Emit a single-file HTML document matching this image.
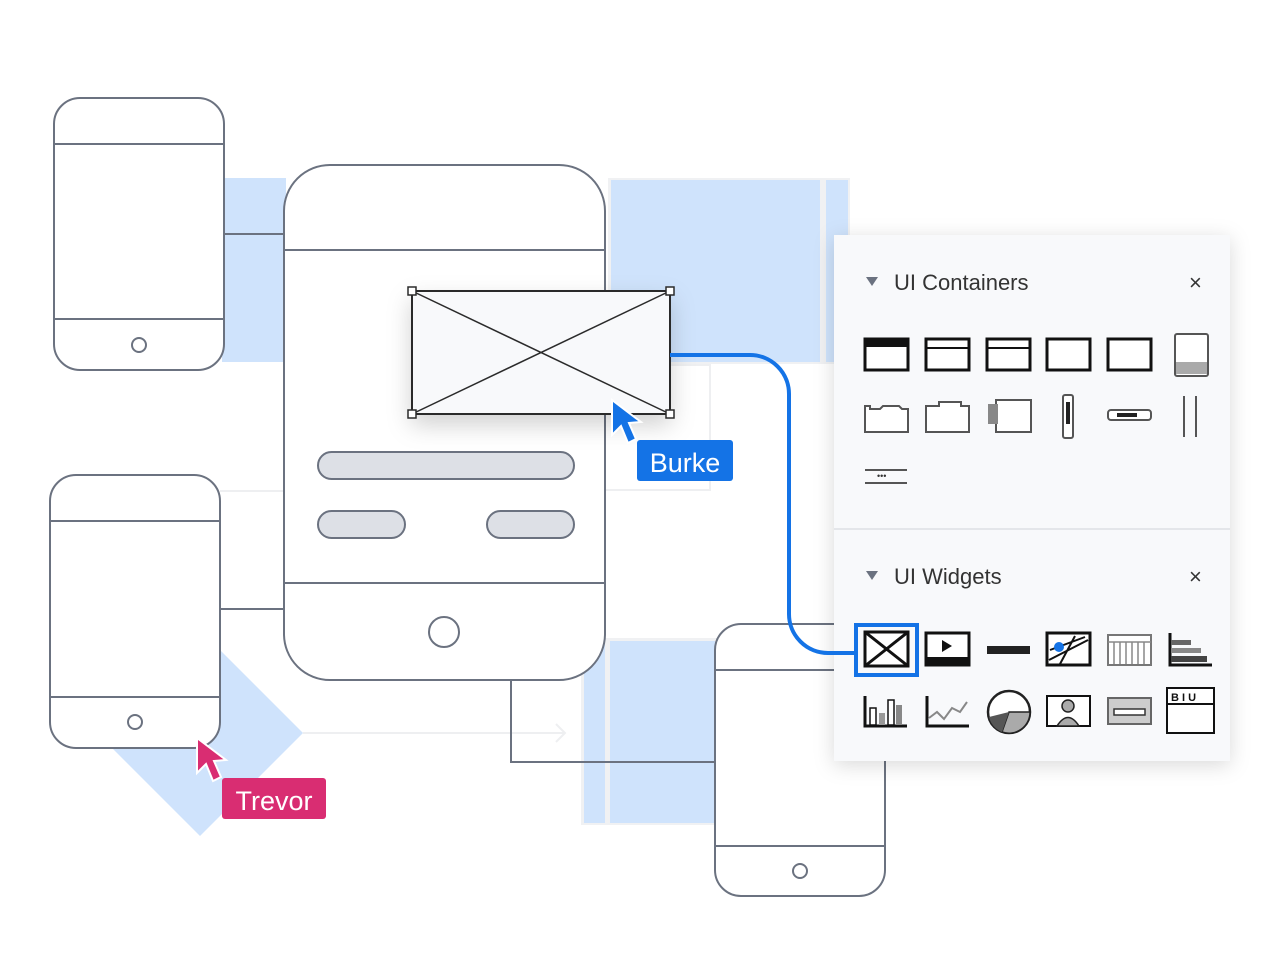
<!DOCTYPE html>
<html><head><meta charset="utf-8"><style>
html,body{margin:0;padding:0;background:#fff;}
svg{display:block;}
text{font-family:"Liberation Sans","DejaVu Sans",sans-serif;}
</style></head><body>
<svg width="1280" height="960" viewBox="0 0 1280 960" xmlns="http://www.w3.org/2000/svg">
<defs>
<filter id="sh" x="-30%" y="-30%" width="160%" height="180%"><feDropShadow dx="0" dy="10" stdDeviation="12" flood-color="#000" flood-opacity="0.18"/></filter>
<filter id="sh2" x="-20%" y="-20%" width="140%" height="140%"><feDropShadow dx="0" dy="4" stdDeviation="10" flood-color="#000" flood-opacity="0.15"/></filter>
</defs>
<rect x="222" y="178" width="64" height="184" fill="#cfe3fc"/>
<rect x="608" y="178" width="242" height="186" fill="#f0f1f3"/>
<rect x="611" y="180" width="209" height="182" fill="#cfe3fc"/>
<rect x="826" y="180" width="22" height="182" fill="#cfe3fc"/>
<rect x="605" y="365" width="105" height="125" fill="none" stroke="#eeeff1" stroke-width="2"/>
<rect x="581" y="638" width="136" height="187" fill="#f0f1f3"/>
<rect x="584" y="641" width="21" height="182" fill="#cfe3fc"/>
<rect x="610" y="641" width="105" height="182" fill="#cfe3fc"/>
<polygon points="200,630 303,733 200,836 97,733" fill="#cfe3fc"/>
<line x1="220" y1="491" x2="290" y2="491" stroke="#eeeff1" stroke-width="2"/>
<line x1="303" y1="733" x2="565" y2="733" stroke="#eeeff1" stroke-width="2"/>
<polyline points="556,724 565,733 556,742" fill="none" stroke="#eeeff1" stroke-width="2"/>
<line x1="224" y1="234" x2="284" y2="234" stroke="#6b7280" stroke-width="2"/>
<line x1="220" y1="609" x2="284" y2="609" stroke="#6b7280" stroke-width="2"/>
<polyline points="511,680 511,762 715,762" fill="none" stroke="#6b7280" stroke-width="2"/>
<g fill="#fff" stroke="#6b7280" stroke-width="2">
<rect x="54" y="98" width="170" height="272" rx="26"/>
<line x1="54" y1="144" x2="224" y2="144"/><line x1="54" y1="319" x2="224" y2="319"/>
<circle cx="139" cy="345" r="7"/>
<rect x="50" y="475" width="170" height="273" rx="26"/>
<line x1="50" y1="521" x2="220" y2="521"/><line x1="50" y1="697" x2="220" y2="697"/>
<circle cx="135" cy="722" r="7"/>
<rect x="715" y="624" width="170" height="272" rx="26"/>
<line x1="715" y1="670" x2="885" y2="670"/><line x1="715" y1="846" x2="885" y2="846"/>
<circle cx="800" cy="871" r="7"/>
<rect x="284" y="165" width="321" height="515" rx="46"/>
<line x1="284" y1="250" x2="605" y2="250"/><line x1="284" y1="583" x2="605" y2="583"/>
<circle cx="444" cy="632" r="15"/>
</g>
<g fill="#dde0e6" stroke="#6b7280" stroke-width="2">
<rect x="318" y="452" width="256" height="27" rx="13.5"/>
<rect x="318" y="511" width="87" height="27" rx="13.5"/>
<rect x="487" y="511" width="87" height="27" rx="13.5"/>
</g>
<rect x="412" y="291" width="258" height="123" fill="#f8f9fb" stroke="#2b2b2b" stroke-width="2" filter="url(#sh)"/>
<line x1="412" y1="291" x2="670" y2="414" stroke="#2b2b2b" stroke-width="1.5"/>
<line x1="670" y1="291" x2="412" y2="414" stroke="#2b2b2b" stroke-width="1.5"/>
<g fill="#fff" stroke="#2b2b2b" stroke-width="1.5">
<rect x="408" y="287" width="8" height="8"/><rect x="666" y="287" width="8" height="8"/>
<rect x="408" y="410" width="8" height="8"/><rect x="666" y="410" width="8" height="8"/>
</g>
<rect x="834" y="235" width="396" height="526" fill="#f8f9fb" filter="url(#sh2)"/>
<line x1="834" y1="529" x2="1230" y2="529" stroke="#e4e6ea" stroke-width="2"/>
<polygon points="866,277 878,277 872,286" fill="#6b7280"/>
<text x="894" y="290" font-size="22" fill="#333">UI Containers</text>
<text x="1189" y="290" font-size="22" fill="#333">×</text>
<polygon points="866,571 878,571 872,580" fill="#6b7280"/>
<text x="894" y="584" font-size="22" fill="#333">UI Widgets</text>
<text x="1189" y="584" font-size="22" fill="#333">×</text>
<g stroke="#111" stroke-width="3" fill="#fff">
<rect x="865" y="339" width="43" height="31"/><rect x="926" y="339" width="43" height="31"/>
<rect x="987" y="339" width="43" height="31"/><rect x="1047" y="339" width="43" height="31"/>
<rect x="1108" y="339" width="43" height="31"/>
</g>
<rect x="865" y="339" width="43" height="8" fill="#111"/>
<line x1="926" y1="348" x2="969" y2="348" stroke="#111" stroke-width="2"/>
<line x1="987" y1="348" x2="1030" y2="348" stroke="#111" stroke-width="2"/>
<g stroke="#555" stroke-width="2" fill="#fff">
<rect x="1175" y="334" width="33" height="42" rx="2"/>
<path d="M865 408 v24 h43 v-23 h-6 l-3 -3 h-16 l-3 3 h-10 v-3 h-5z"/>
<path d="M926 406 v26 h43 v-26 h-8 v-4 h-22 v4z"/>
<rect x="996" y="400" width="35" height="32"/>
<rect x="1063" y="395" width="10" height="43" rx="2"/>
<rect x="1108" y="410" width="43" height="10" rx="3"/>
<line x1="1184" y1="396" x2="1184" y2="437"/><line x1="1196" y1="396" x2="1196" y2="437"/>
<line x1="865" y1="470" x2="907" y2="470"/><line x1="865" y1="483" x2="907" y2="483"/>
</g>
<rect x="1176" y="362" width="31" height="12" fill="#aaa"/>
<rect x="988" y="404" width="10" height="20" fill="#888"/>
<rect x="1066" y="402" width="4" height="22" fill="#222"/>
<rect x="1117" y="413" width="20" height="4" fill="#222"/>
<text x="877" y="479" font-size="9" fill="#333">•••</text>
<rect x="856" y="625" width="61" height="50" fill="none" stroke="#1473e6" stroke-width="4"/>
<rect x="865" y="632" width="43" height="34" fill="#fff" stroke="#111" stroke-width="3"/>
<line x1="865" y1="632" x2="908" y2="666" stroke="#111" stroke-width="3"/><line x1="908" y1="632" x2="865" y2="666" stroke="#111" stroke-width="3"/>
<rect x="926" y="633" width="43" height="32" fill="#fff" stroke="#111" stroke-width="3"/>
<rect x="926" y="657" width="43" height="8" fill="#111"/>
<polygon points="942,640 942,652 952,646" fill="#111"/>
<rect x="987" y="646" width="43" height="8" fill="#222"/>
<rect x="1047" y="633" width="43" height="32" fill="#fff" stroke="#111" stroke-width="3"/>
<path d="M1049 660 L1088 640 M1050 650 L1085 637 M1060 664 L1075 636" stroke="#111" stroke-width="2"/>
<circle cx="1059" cy="647" r="5" fill="#1473e6"/>
<rect x="1108" y="635" width="43" height="30" fill="#fff" stroke="#777" stroke-width="2"/>
<path d="M1114 642v22M1120 642v22M1126 642v22M1132 642v22M1138 642v22M1144 642v22M1108 642h43" stroke="#888" stroke-width="1.5"/>
<path d="M1170 633v32h42" fill="none" stroke="#111" stroke-width="3"/>
<rect x="1171" y="640" width="20" height="5" fill="#666"/><rect x="1171" y="648" width="30" height="5" fill="#888"/><rect x="1171" y="656" width="36" height="6" fill="#444"/>
<path d="M865 696v30h42" fill="none" stroke="#111" stroke-width="3"/>
<rect x="870" y="708" width="6" height="17" fill="#fff" stroke="#111" stroke-width="1.5"/><rect x="879" y="713" width="6" height="12" fill="#999"/><rect x="888" y="700" width="6" height="25" fill="#fff" stroke="#111" stroke-width="1.5"/><rect x="896" y="705" width="6" height="20" fill="#888"/>
<path d="M927 696v30h42" fill="none" stroke="#111" stroke-width="3"/>
<polyline points="929,718 937,712 944,719 952,708 960,712 967,702" fill="none" stroke="#888" stroke-width="2"/>
<circle cx="1009" cy="712" r="21" fill="#fff" stroke="#222" stroke-width="2.5"/>
<path d="M1009 712 L1030 712 A21 21 0 0 1 1002 732 Z" fill="#aaa" stroke="#222" stroke-width="1.5"/>
<path d="M1009 712 L1002 732 A21 21 0 0 1 989 717 Z" fill="#555"/>
<rect x="1047" y="696" width="43" height="30" fill="#fff" stroke="#111" stroke-width="2"/>
<circle cx="1068" cy="706" r="6" fill="#aaa" stroke="#222" stroke-width="1.5"/>
<path d="M1057 726 q11 -17 22 0z" fill="#aaa" stroke="#222" stroke-width="1.5"/>
<rect x="1108" y="698" width="43" height="26" fill="#ccc" stroke="#666" stroke-width="2"/>
<rect x="1114" y="709" width="31" height="6" fill="#fff" stroke="#333" stroke-width="1.5"/>
<rect x="1167" y="688" width="47" height="45" fill="#fff" stroke="#111" stroke-width="2"/>
<line x1="1167" y1="704" x2="1214" y2="704" stroke="#111" stroke-width="2"/>
<text x="1171" y="701" font-size="11" font-weight="bold" fill="#111">B I U</text>
<path d="M670 355 H750 A39 39 0 0 1 789 394 V614 A39 39 0 0 0 828 653 H856" fill="none" stroke="#1473e6" stroke-width="4"/>
<path d="M612 400 L612 435 L621 426 L628 443 L636 439 L629 423 L641 422 Z" fill="#1473e6" stroke="#fff" stroke-width="2"/>
<rect x="637" y="440" width="96" height="41" rx="3" fill="#1473e6"/>
<text x="685" y="472" font-size="27" fill="#fff" text-anchor="middle">Burke</text>
<path d="M197 738 L197 773 L206 764 L213 781 L221 777 L214 761 L226 760 Z" fill="#d92d72" stroke="#fff" stroke-width="2"/>
<rect x="222" y="778" width="104" height="41" rx="3" fill="#d92d72"/>
<text x="274" y="810" font-size="27" fill="#fff" text-anchor="middle">Trevor</text>
</svg>
</body></html>
